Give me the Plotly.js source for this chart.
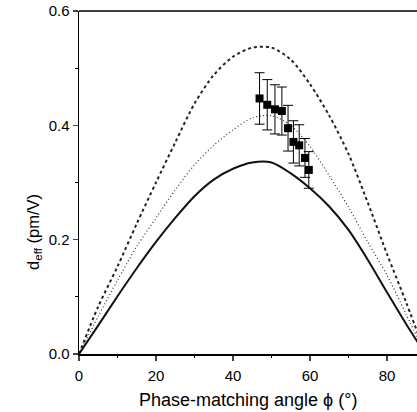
<!DOCTYPE html>
<html>
<head>
<meta charset="utf-8">
<script src="https://cdn.plot.ly/plotly-3.0.1.min.js"></script>
<style>html,body{margin:0;padding:0;background:#fff;overflow:hidden;}#chart{width:417px;height:412px;}</style>
</head>
<body>
<div id="chart"></div>
<script>
// Angles (degrees) at which the theory curves were read
const angles = [0, 5, 10, 15, 20, 25, 30, 35, 40, 45, 50, 55, 60, 65, 70, 75, 80, 85, 90];
// Upper (dashed) theory curve
const dashedCurve = [0, 0.083, 0.153, 0.228, 0.300, 0.370, 0.438, 0.488, 0.520, 0.536, 0.536, 0.515, 0.472, 0.417, 0.350, 0.265, 0.175, 0.090, 0];
// Middle (dotted) theory curve
const dottedCurve = [0, 0.066, 0.129, 0.188, 0.238, 0.287, 0.331, 0.365, 0.392, 0.413, 0.417, 0.400, 0.363, 0.312, 0.257, 0.196, 0.138, 0.069, 0];
// Lower (solid) theory curve
const solidCurve = [0, 0.050, 0.101, 0.150, 0.196, 0.238, 0.276, 0.305, 0.324, 0.335, 0.335, 0.316, 0.290, 0.258, 0.217, 0.165, 0.108, 0.052, 0];
// Measured points
const measAngle = [46.9, 48.9, 50.9, 52.7, 54.3, 55.7, 57.2, 58.7, 59.7];
const measDeff = [0.447, 0.436, 0.428, 0.425, 0.395, 0.371, 0.365, 0.343, 0.322];
const measErr = [0.045, 0.044, 0.043, 0.042, 0.040, 0.037, 0.036, 0.034, 0.032];

const traces = [
  {x: angles, y: dashedCurve, mode: 'lines', line: {color: '#222', width: 2, dash: '3px,3px', shape: 'spline', smoothing: 0.8}, hoverinfo: 'skip'},
  {x: angles, y: dottedCurve, mode: 'lines', line: {color: '#333', width: 1.2, dash: '1px,2.5px', shape: 'spline', smoothing: 0.8}, hoverinfo: 'skip'},
  {x: angles, y: solidCurve, mode: 'lines', line: {color: '#111', width: 2, shape: 'spline', smoothing: 0.8}, hoverinfo: 'skip'},
  {x: measAngle, y: measDeff, mode: 'markers', marker: {symbol: 'square', size: 8, color: '#000'},
   error_y: {type: 'data', array: measErr, visible: true, color: '#000', thickness: 1, width: 5}}
];

const font = 'Arial, "Liberation Sans", Helvetica, sans-serif';
const layout = {
  width: 417, height: 412,
  margin: {l: 79, r: 0, t: 11, b: 58},
  paper_bgcolor: '#fff', plot_bgcolor: '#fff',
  showlegend: false,
  font: {family: font, size: 15, color: '#000'},
  xaxis: {
    range: [0, 87.8], tickvals: [0, 20, 40, 60, 80], ticks: 'outside', ticklen: 5, tickwidth: 1.2,
    ticklabelstandoff: 2,
    showline: true, linewidth: 1.5, linecolor: '#000', showgrid: false, zeroline: false,
    minor: {tickvals: [10, 30, 50, 70], ticks: 'outside', ticklen: 2.5, tickwidth: 1, tickcolor: '#000'},
    tickfont: {family: font, size: 15}, fixedrange: true
  },
  yaxis: {
    range: [0, 0.6], tickvals: [0, 0.2, 0.4, 0.6], tickformat: '.1f', ticks: 'outside', ticklen: 5, tickwidth: 1.2,
    showline: true, linewidth: 1.5, linecolor: '#000', showgrid: false, zeroline: false,
    minor: {tickvals: [0.1, 0.3, 0.5], ticks: 'outside', ticklen: 2.5, tickwidth: 1, tickcolor: '#000'},
    tickfont: {family: font, size: 15}, fixedrange: true
  },
  shapes: [
    {type: 'line', xref: 'paper', yref: 'paper', x0: 0, x1: 1, y0: 1, y1: 1, line: {color: '#000', width: 1.5}}
  ],
  annotations: [
    {text: 'Phase-matching angle \u03D5 (\u00B0)', xref: 'paper', yref: 'paper', x: 0.50, y: -0.134,
     xanchor: 'center', yanchor: 'middle', showarrow: false, font: {family: font, size: 18}},
    {text: 'd<sub>eff</sub> (pm/V)', xref: 'paper', yref: 'paper', x: -0.135, y: 0.357, textangle: -90,
     xanchor: 'center', yanchor: 'middle', showarrow: false, font: {family: font, size: 16.5}}
  ]
};

Plotly.newPlot('chart', traces, layout, {displayModeBar: false, staticPlot: true});
</script>
</body>
</html>
